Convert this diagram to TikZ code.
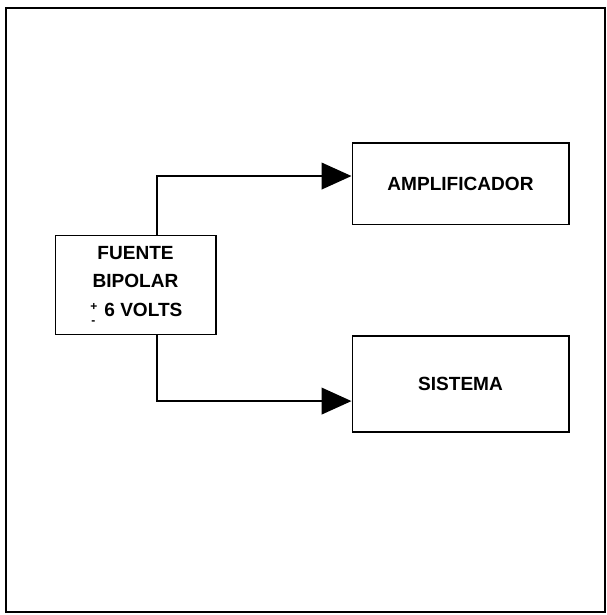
\documentclass[tikz,border=0pt]{standalone}
\usepackage{fontspec}
\setmainfont{Liberation Sans}
\usetikzlibrary{positioning,arrows.meta}

\newcommand{\masmenos}{\makebox[0.55em]{\raisebox{0.55ex}{\small +}\llap{\raisebox{-0.75ex}{\small -}\hspace{0.1em}}}}

\begin{document}
\begin{tikzpicture}[
    x=0.75pt, y=-0.75pt,
    box/.style={
        draw,
        line width=1pt,
        minimum width=162.5pt,
        minimum height=61pt,
        align=center,
        font=\fontsize{14.3}{21.5}\selectfont\bfseries
    },
    arr/.style={
        -{Triangle[length=22.5pt,width=20pt]},
        line width=1.5pt
    }
]

\useasboundingbox (0,0) rectangle (607,615);
\draw[line width=0.9pt] (6,8) rectangle (605,612);

\node[box, minimum width=120.5pt, minimum height=74pt] (fuente) at (135.5,285) {
    FUENTE\\
    BIPOLAR\\
    \masmenos\ 6 VOLTS
};

\node[box] (amp) at (460.5,183.5) {AMPLIFICADOR};

\node[box, minimum height=72pt] (sistema) at (460.5,384) {SISTEMA};

\draw[arr] ([xshift=16pt]fuente.north) |- ([yshift=5.6pt]amp.west);
\draw[arr] ([xshift=16pt]fuente.south) |- ([yshift=-12.8pt]sistema.west);

\end{tikzpicture}
\end{document}
